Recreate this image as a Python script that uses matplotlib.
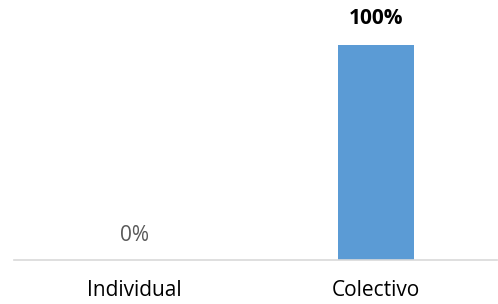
import matplotlib
matplotlib.use("Agg")
import matplotlib.pyplot as plt

categories = ["Individual", "Colectivo"]
values = [0.0, 1.0]
value_labels = ["0%", "100%"]

plt.rcParams['font.family'] = ['Open Sans', 'DejaVu Sans']

fig = plt.figure(figsize=(4.98, 3.04), dpi=100)
ax = fig.add_axes([14 / 498, 44.5 / 304, 483 / 498, 215 / 304])

x = range(len(categories))
ax.bar(x, values, width=0.315, color='#5B9BD5')

ax.set_xlim(-0.5, 1.5)
ax.set_ylim(0, 1)
ax.set_yticks([])
ax.set_xticks(list(x))
ax.set_xticklabels(categories, fontsize=15, color='#000000')
ax.tick_params(axis='x', length=0, pad=15)

for side in ['top', 'right', 'left']:
    ax.spines[side].set_visible(False)
ax.spines['bottom'].set_color('#D9D9D9')
ax.spines['bottom'].set_linewidth(1.2)

# data labels: zero one in grey, the full one in bold black
for i, v in enumerate(values):
    if v > 0:
        ax.annotate(value_labels[i], (i, v), xytext=(0, 18.5), textcoords='offset points',
                    ha='center', va='center', fontsize=15, fontweight='bold',
                    color='#000000', annotation_clip=False)
    else:
        ax.annotate(value_labels[i], (i, v), xytext=(0, 17.6), textcoords='offset points',
                    ha='center', va='center', fontsize=15, color='#595959',
                    annotation_clip=False)

fig.savefig("out.png", dpi=100)
